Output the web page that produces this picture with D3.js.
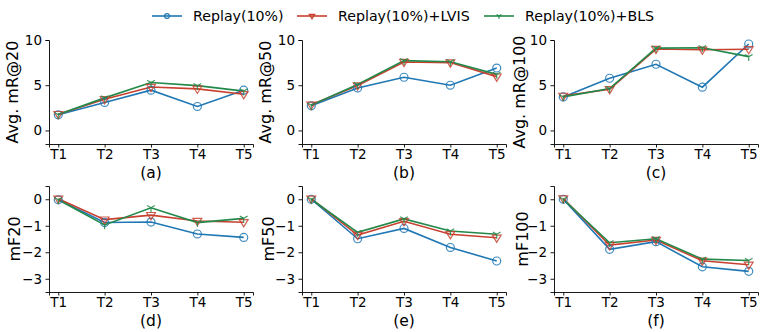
<!DOCTYPE html>
<html><head><meta charset="utf-8">
<script src="https://cdn.jsdelivr.net/npm/d3@7"></script>
<style>body{margin:0;background:#fff}svg{display:block;font-family:"DejaVu Sans",sans-serif}</style>
</head><body><svg id="c" width="763" height="332"></svg>
<script>
const tasks = ["T1","T2","T3","T4","T5"];
const seriesNames = ["Replay(10%)","Replay(10%)+LVIS","Replay(10%)+BLS"];
const colors = ["#1f77b4","#c8402f","#22894a"];
const markers = ["circle","tridown","tri1"];

const mR20 = [[1.73,3.1,4.45,2.65,4.45],[1.8,3.45,4.8,4.6,4.0],[1.75,3.6,5.3,4.95,4.35]];
const mR50 = [[2.72,4.7,5.88,5.0,6.9],[2.83,4.96,7.57,7.5,5.95],[2.8,5.07,7.72,7.6,6.2]];
const mR100 = [[3.71,5.77,7.32,4.78,9.56],[3.82,4.56,9.0,8.93,8.97],[3.71,4.63,9.1,9.15,8.16]];
const mF20 = [[-0.02,-0.88,-0.86,-1.31,-1.44],[0.02,-0.77,-0.6,-0.82,-0.87],[-0.02,-0.97,-0.32,-0.88,-0.72]];
const mF50 = [[0,-1.49,-1.1,-1.82,-2.33],[0.02,-1.35,-0.83,-1.32,-1.45],[0,-1.25,-0.74,-1.2,-1.32]];
const mF100 = [[0,-1.89,-1.6,-2.55,-2.72],[0.03,-1.73,-1.54,-2.32,-2.47],[0,-1.64,-1.49,-2.26,-2.31]];

const topTicks = [0,5,10];
const botTicks = [0,-1,-2,-3];

const panels = [
  {data:mR20, label:"Avg. mR@20", sub:"(a)", x:49, y:40, h:104, dom:[-1.5,10], ticks:topTicks, lx:12.5},
  {data:mR50, label:"Avg. mR@50", sub:"(b)", x:302, y:40, h:104, dom:[-1.5,10], ticks:topTicks, lx:265},
  {data:mR100, label:"Avg. mR@100", sub:"(c)", x:554, y:40, h:104, dom:[-1.5,10], ticks:topTicks, lx:519},
  {data:mF20, label:"mF20", sub:"(d)", x:49, y:186, h:106, dom:[-3.5,0.5], ticks:botTicks, lx:14},
  {data:mF50, label:"mF50", sub:"(e)", x:302, y:186, h:106, dom:[-3.5,0.5], ticks:botTicks, lx:268},
  {data:mF100, label:"mF100", sub:"(f)", x:554, y:186, h:106, dom:[-3.5,0.5], ticks:botTicks, lx:522}
];
const W = 204;
const svg = d3.select("#c");

function drawMarker(g, type, color, s){
  if(type==="circle"){
    g.append("circle").attr("r",s*0.95).attr("fill","none").attr("stroke",color).attr("stroke-width",1.2);
  } else if(type==="tridown"){
    const r=s*1.05;
    g.append("path").attr("d",`M${-r},${-r*0.6}L${r},${-r*0.6}L0,${r*1.05}Z`).attr("fill","none").attr("stroke",color).attr("stroke-width",1.2);
  } else {
    const r=s*1.05;
    g.append("path").attr("d",`M0,0L0,${r}M0,0L${-r*0.87},${-r*0.5}M0,0L${r*0.87},${-r*0.5}`).attr("fill","none").attr("stroke",color).attr("stroke-width",1.2);
  }
}

panels.forEach(p=>{
  const xs = d3.scaleLinear().domain([-0.2,4.2]).range([0,W]);
  const y = d3.scaleLinear().domain(p.dom).range([p.h,0]);
  const g = svg.append("g").attr("transform",`translate(${p.x},${p.y})`);
  const xa = g.append("g").attr("transform",`translate(0,${p.h})`)
    .call(d3.axisBottom(xs).tickValues([0,1,2,3,4]).tickFormat(i=>tasks[i]).tickSizeOuter(0).tickSize(3.5).tickPadding(2));
  const ya = g.append("g").call(d3.axisLeft(y).tickValues(p.ticks).tickFormat(v=>v<0?"\u2212"+Math.abs(v):v).tickSizeOuter(0).tickSize(3.5).tickPadding(3.5));
  [xa,ya].forEach(a=>{a.selectAll("text").attr("font-size",13.5).attr("fill","#000").attr("font-family","DejaVu Sans");
    a.selectAll("line,path").attr("stroke","#000").attr("stroke-width",0.9);});
  const line = d3.line().x((d,i)=>xs(i)).y(d=>y(d));
  p.data.forEach((s,k)=>{
    g.append("path").datum(s).attr("d",line).attr("fill","none").attr("stroke",colors[k]).attr("stroke-width",1.6);
  });
  p.data.forEach((s,k)=>{
    s.forEach((v,i)=>{
      const mg = g.append("g").attr("transform",`translate(${xs(i)},${y(v)})`).attr("opacity",0.85);
      drawMarker(mg, markers[k], colors[k], 4.2);
    });
  });
  svg.append("text").attr("transform",`translate(${p.lx},${p.y+p.h/2}) rotate(-90)`)
    .attr("text-anchor","middle").attr("dominant-baseline","central").attr("font-size",16).text(p.label);
  svg.append("text").attr("x",p.x+W/2).attr("y",p.y+p.h+34).attr("text-anchor","middle").attr("font-size",15.5).text(p.sub);
});

// legend
const legX = [152,297,484];
seriesNames.forEach((n,k)=>{
  const g = svg.append("g").attr("transform",`translate(${legX[k]},16)`);
  g.append("line").attr("x1",0).attr("x2",30).attr("stroke",colors[k]).attr("stroke-width",1.6);
  const mg = g.append("g").attr("transform","translate(15,0)");
  drawMarker(mg, markers[k], colors[k], 2.6);
  g.append("text").attr("x",41).attr("y",0).attr("dominant-baseline","central").attr("font-size",14.2).text(n);
});
</script></body></html>
